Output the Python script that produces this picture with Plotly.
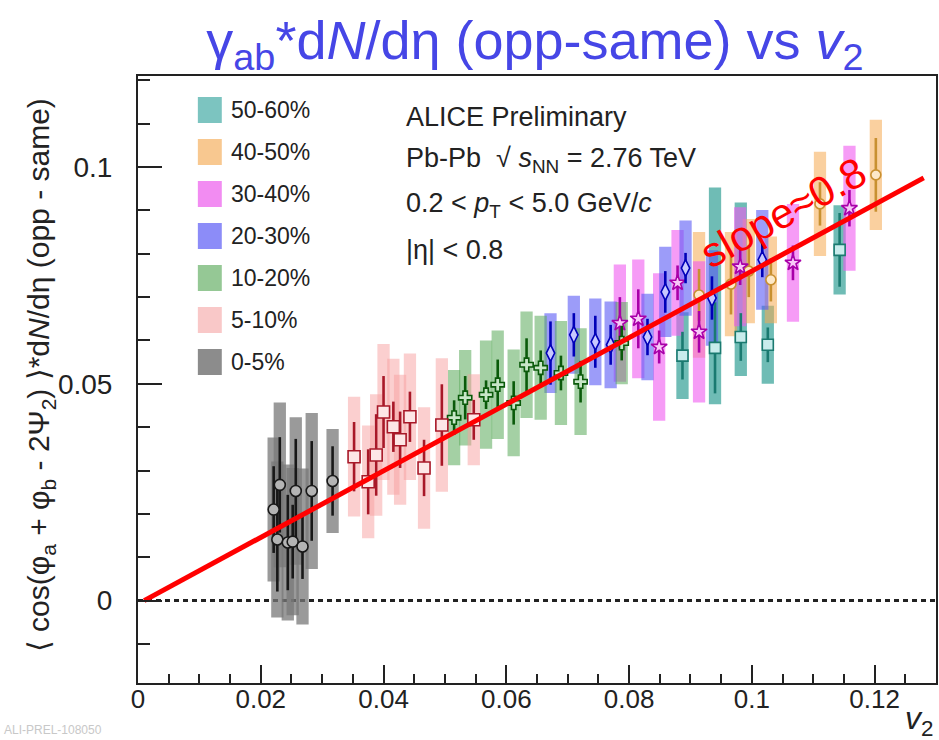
import plotly.graph_objects as go

# ---------------- data ----------------
# 0-5 %
c0_x = [0.0221, 0.0227, 0.0231, 0.0244, 0.0252, 0.0257, 0.0268, 0.0283, 0.0317]
c0_y = [0.0210, 0.0141, 0.0267, 0.0134, 0.0136, 0.0253, 0.0125, 0.0253, 0.0276]
c0_stat = [0.010, 0.012, 0.011, 0.011, 0.0085, 0.012, 0.0075, 0.0115, 0.008]
c0_sys = [0.0166, 0.018, 0.019, 0.018, 0.017, 0.017, 0.018, 0.018, 0.012]
# 5-10 %
c1_x = [0.0352, 0.0375, 0.0388, 0.0400, 0.0416, 0.0427, 0.0443, 0.0466, 0.0495, 0.0547]
c1_y = [0.0332, 0.0274, 0.0336, 0.0435, 0.0401, 0.0371, 0.0424, 0.0306, 0.0405, 0.0417]
c1_stat = [0.008, 0.0075, 0.0094, 0.0083, 0.0058, 0.0065, 0.0058, 0.0065, 0.0094, 0.0046]
c1_sys = [0.0138, 0.013, 0.014, 0.0157, 0.0157, 0.015, 0.0146, 0.014, 0.0154, 0.0105]
# 10-20 %
c2_x = [0.0515, 0.0533, 0.0567, 0.0586, 0.0612, 0.0633, 0.0656, 0.0689, 0.0721, 0.0788]
c2_y = [0.0422, 0.0468, 0.0475, 0.0498, 0.0456, 0.0544, 0.0537, 0.0525, 0.0505, 0.0594]
c2_stat = [0.004, 0.005, 0.0033, 0.0058, 0.005, 0.0061, 0.004, 0.004, 0.0048, 0.004]
c2_sys = [0.011, 0.011, 0.0125, 0.0125, 0.0123, 0.0123, 0.012, 0.012, 0.0123, 0.0095]
# 20-30 %
c3_x = [0.0672, 0.0710, 0.0745, 0.0770, 0.0830, 0.0859, 0.0892, 0.0935, 0.1017]
c3_y = [0.0571, 0.0613, 0.0597, 0.0590, 0.0608, 0.0712, 0.0767, 0.0698, 0.0786]
c3_stat = [0.0073, 0.005, 0.006, 0.0046, 0.0042, 0.0048, 0.0035, 0.005, 0.004]
c3_sys = [0.0092, 0.009, 0.0100, 0.010, 0.010, 0.0104, 0.011, 0.011, 0.0115]
# 30-40 %
c4_x = [0.0785, 0.0815, 0.0849, 0.0879, 0.0914, 0.0981, 0.1067, 0.1159]
c4_y = [0.0640, 0.0650, 0.0585, 0.0733, 0.0620, 0.0770, 0.0779, 0.0905]
c4_stat = [0.006, 0.0068, 0.0038, 0.004, 0.0048, 0.0042, 0.004, 0.0042]
c4_sys = [0.0135, 0.0137, 0.017, 0.0122, 0.0163, 0.0137, 0.0136, 0.0144]
# 40-50 %
c5_x = [0.0914, 0.0966, 0.0995, 0.1031, 0.1111, 0.1202]
c5_y = [0.0705, 0.0730, 0.0760, 0.0740, 0.0915, 0.0982]
c5_stat = [0.006, 0.007, 0.006, 0.005, 0.005, 0.0085]
c5_sys = [0.0145, 0.012, 0.012, 0.010, 0.012, 0.0127]
# 50-60 %
c6_x = [0.0887, 0.0940, 0.0982, 0.1026, 0.1143]
c6_y = [0.0565, 0.0583, 0.0608, 0.0590, 0.0809]
c6_stat = [0.0055, 0.0105, 0.0055, 0.004, 0.0085]
c6_sys_up = [0.010, 0.037, 0.031, 0.009, 0.0103]
c6_sys_dn = [0.010, 0.013, 0.009, 0.009, 0.0103]

# straight line "slope ~ 0.8"
fit_x = [0.001, 0.128]
fit_y = [0.0, 0.0975]

labels = ["50-60%", "40-50%", "30-40%", "20-30%", "10-20%", "5-10%", "0-5%"]

# ---------------- style ----------------
FONT = "Liberation Sans, Arial, Helvetica, sans-serif"
W, H = 939, 740
ML, MR, MT, MB = 138, 1, 76, 57
PW, PH = W - ML - MR, H - MT - MB

series = [
    # name, x, y, stat, sys_up, sys_dn, box colour, legend colour, marker symbol, size, fill, edge
    (labels[0], c6_x, c6_y, c6_stat, c6_sys_up, c6_sys_dn,
     "rgba(50,160,150,0.70)", "#7cc4c0", "square", 11, "#c8ecec", "#1a7a70"),
    (labels[1], c5_x, c5_y, c5_stat, c5_sys, c5_sys,
     "rgba(245,170,80,0.55)", "#f8c890", "circle", 10, "#fde8c8", "#c89030"),
    (labels[2], c4_x, c4_y, c4_stat, c4_sys, c4_sys,
     "rgba(240,90,240,0.60)", "#f28cf2", "star", 12, "#f8c8f8", "#a800a8"),
    (labels[3], c3_x, c3_y, c3_stat, c3_sys, c3_sys,
     "rgba(90,90,245,0.60)", "#8c8cf8", "diamond-tall", 12, "#c8c8ff", "#0000b8"),
    (labels[4], c2_x, c2_y, c2_stat, c2_sys, c2_sys,
     "rgba(90,170,90,0.55)", "#95c895", "cross", 11, "#c8e6c8", "#0a5a0a"),
    (labels[5], c1_x, c1_y, c1_stat, c1_sys, c1_sys,
     "rgba(248,160,160,0.50)", "#f9c8c8", "square", 12, "#fde6e6", "#a81828"),
    (labels[6], c0_x, c0_y, c0_stat, c0_sys, c0_sys,
     "rgba(120,120,120,0.75)", "#8c8c8c", "circle", 11, "#b4b4b4", "#181818"),
]

fig = go.Figure()

# systematic boxes
for (name, xs, ys, st, su, sd, bc, lc, sym, sz, fill, edge) in series:
    fig.add_trace(go.Bar(
        x=xs, y=[u + d for u, d in zip(su, sd)], base=[v - d for v, d in zip(ys, sd)],
        width=0.002, marker=dict(color=bc, line=dict(width=0)),
        showlegend=False, hoverinfo="skip"))

# statistical errors + markers
for (name, xs, ys, st, su, sd, bc, lc, sym, sz, fill, edge) in series:
    fig.add_trace(go.Scatter(
        x=xs, y=ys, mode="markers", name=name, showlegend=False,
        error_y=dict(type="data", array=st, visible=True, color=edge, thickness=2.6, width=0),
        marker=dict(symbol=sym, size=sz, color=fill, line=dict(color=edge, width=1.6))))

# fit line
fig.add_trace(go.Scatter(x=fit_x, y=fit_y, mode="lines",
                         line=dict(color="#ff0000", width=5), showlegend=False, hoverinfo="skip"))

# ---------------- hand-made ROOT-style legend ----------------
leg_top_px, leg_step_px = 110, 42
leg_box_x0, leg_box_x1, leg_box_h = 198, 222, 26
leg_cx = (leg_box_x0 + leg_box_x1) / 2
leg_ys = []
for i, s in enumerate(series):
    cy_px = leg_top_px + i * leg_step_px
    py = (H - MB - cy_px) / PH
    leg_ys.append(py)
    fig.add_shape(type="rect", xref="paper", yref="paper",
                  x0=(leg_box_x0 - ML) / PW, x1=(leg_box_x1 - ML) / PW,
                  y0=py - leg_box_h / 2 / PH, y1=py + leg_box_h / 2 / PH,
                  fillcolor=s[7], line=dict(width=0), layer="above")
    fig.add_annotation(xref="paper", yref="paper", x=(229 - ML) / PW, y=py,
                       xanchor="left", yanchor="middle", showarrow=False,
                       text=s[0], font=dict(family=FONT, size=23, color="#222"))

fig.add_trace(go.Scatter(
    x=[(leg_cx - ML) / PW] * len(series), y=leg_ys, xaxis="x2", yaxis="y2",
    mode="markers", showlegend=False, hoverinfo="skip",
    marker=dict(symbol=[s[8] for s in series], size=[s[9] - 2 for s in series],
                color=[s[7] for s in series],
                line=dict(color=[s[11] for s in series], width=1.5))))

# ---------------- text ----------------
txt_x = (405 - ML) / PW
for ypx, t in [(117, "ALICE Preliminary"),
               (160, "Pb-Pb  √ <i>s</i><sub>NN</sub> = 2.76 TeV"),
               (205, "0.2 < <i>p</i><sub>T</sub> < 5.0 GeV/<i>c</i>"),
               (250, "|η| < 0.8")]:
    fig.add_annotation(xref="paper", yref="paper", x=txt_x, y=(H - MB - ypx) / PH,
                       xanchor="left", yanchor="middle", showarrow=False, text=t,
                       font=dict(family=FONT, size=27, color="#222"))

fig.add_annotation(x=0.1051, y=0.0896, xref="x", yref="y", text="slope≈0.8",
                   textangle=-29, showarrow=False,
                   font=dict(family=FONT, size=42, color="#ff0000"))

# y title
fig.add_annotation(xref="paper", yref="paper", x=(40 - ML) / PW, y=(H - MB - 375) / PH,
                   textangle=-90, showarrow=False, xanchor="center", yanchor="middle",
                   text="⟨ cos(φ<sub>a</sub> + φ<sub>b</sub> - 2Ψ<sub>2</sub>) ⟩*d<i>N</i>/dη (opp - same)",
                   font=dict(family=FONT, size=30, color="#222"))
# x title
fig.add_annotation(xref="paper", yref="paper", x=(937 - ML) / PW, y=(H - MB - 720) / PH,
                   xanchor="right", yanchor="middle", showarrow=False,
                   text="<i>v</i><sub>2</sub>", font=dict(family=FONT, size=32, color="#222"))
# preliminary id
fig.add_annotation(xref="paper", yref="paper", x=(2 - ML) / PW, y=(H - MB - 739) / PH,
                   xanchor="left", yanchor="bottom", showarrow=False,
                   text="ALI-PREL-108050", font=dict(family=FONT, size=12, color="#c8c8c8"))

# zero line
fig.add_shape(type="line", xref="x", yref="y", x0=0, x1=0.13, y0=0, y1=0,
              line=dict(color="#222", width=3, dash="5px,4px"), layer="below")

fig.update_layout(
    width=W, height=H, margin=dict(l=ML, r=MR, t=MT, b=MB),
    paper_bgcolor="white", plot_bgcolor="white", barmode="overlay",
    title=dict(text="γ<sub>ab</sub>*d<i>N</i>/dη (opp-same) vs <i>v</i><sub>2</sub>",
               x=535 / W, y=1 - 40 / H, xanchor="center", yanchor="middle",
               font=dict(family=FONT, size=54, color="#4646e6")),
    xaxis=dict(range=[0, 0.13], dtick=0.02, tick0=0, ticks="inside", ticklen=18, tickwidth=1.5,
               tickcolor="#222", showgrid=False, zeroline=False, showline=True, linecolor="#222",
               linewidth=2, mirror=True, tickfont=dict(family=FONT, size=26, color="#222"),
               ticklabelstandoff=-8,
               minor=dict(dtick=0.005, ticks="inside", ticklen=9, tickwidth=1.5, tickcolor="#222")),
    yaxis=dict(range=[-0.019, 0.121], dtick=0.05, tick0=0, ticks="inside", ticklen=24, tickwidth=1.5,
               tickcolor="#222", showgrid=False, zeroline=False, showline=True, linecolor="#222",
               linewidth=2, mirror=True, tickfont=dict(family=FONT, size=28, color="#222"),
               ticklabelstandoff=18,
               minor=dict(dtick=0.01, ticks="inside", ticklen=12, tickwidth=1.5, tickcolor="#222")),
    xaxis2=dict(overlaying="x", range=[0, 1], visible=False, fixedrange=True),
    yaxis2=dict(overlaying="y", range=[0, 1], visible=False, fixedrange=True),
    showlegend=False,
)

fig.write_html("out.html")
